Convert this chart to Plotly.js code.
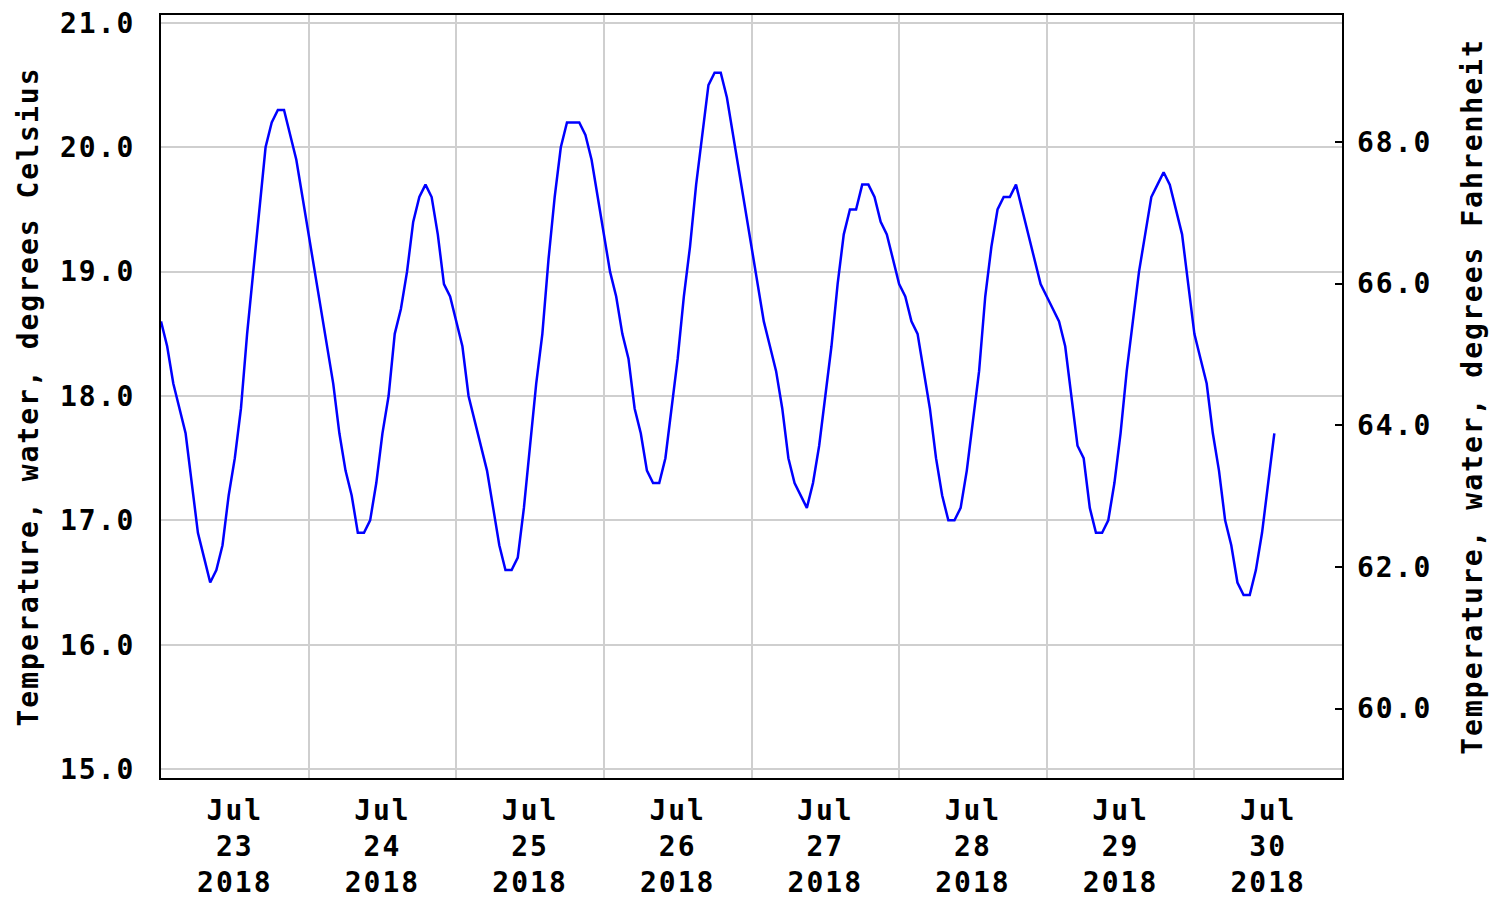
<!DOCTYPE html>
<html>
<head>
<meta charset="utf-8">
<script src="https://cdn.plot.ly/plotly-3.0.1.min.js"></script>
<style>
  html, body { margin: 0; padding: 0; background: #fff; }
  #chart { width: 1492px; height: 900px; }
  #chart text { letter-spacing: 2px; }
</style>
</head>
<body>
<div id="chart"></div>
<script>
// Hourly water temperature (deg C), starting 2018-07-23 00:00
const startDay = 23;
const tempC = [
  18.6, 18.4, 18.1, 17.9, 17.7, 17.3, 16.9, 16.7, 16.5, 16.6, 16.8, 17.2,
  17.5, 17.9, 18.5, 19.0, 19.5, 20.0, 20.2, 20.3, 20.3, 20.1, 19.9, 19.6,
  19.3, 19.0, 18.7, 18.4, 18.1, 17.7, 17.4, 17.2, 16.9, 16.9, 17.0, 17.3,
  17.7, 18.0, 18.5, 18.7, 19.0, 19.4, 19.6, 19.7, 19.6, 19.3, 18.9, 18.8,
  18.6, 18.4, 18.0, 17.8, 17.6, 17.4, 17.1, 16.8, 16.6, 16.6, 16.7, 17.1,
  17.6, 18.1, 18.5, 19.1, 19.6, 20.0, 20.2, 20.2, 20.2, 20.1, 19.9, 19.6,
  19.3, 19.0, 18.8, 18.5, 18.3, 17.9, 17.7, 17.4, 17.3, 17.3, 17.5, 17.9,
  18.3, 18.8, 19.2, 19.7, 20.1, 20.5, 20.6, 20.6, 20.4, 20.1, 19.8, 19.5,
  19.2, 18.9, 18.6, 18.4, 18.2, 17.9, 17.5, 17.3, 17.2, 17.1, 17.3, 17.6,
  18.0, 18.4, 18.9, 19.3, 19.5, 19.5, 19.7, 19.7, 19.6, 19.4, 19.3, 19.1,
  18.9, 18.8, 18.6, 18.5, 18.2, 17.9, 17.5, 17.2, 17.0, 17.0, 17.1, 17.4,
  17.8, 18.2, 18.8, 19.2, 19.5, 19.6, 19.6, 19.7, 19.5, 19.3, 19.1, 18.9,
  18.8, 18.7, 18.6, 18.4, 18.0, 17.6, 17.5, 17.1, 16.9, 16.9, 17.0, 17.3,
  17.7, 18.2, 18.6, 19.0, 19.3, 19.6, 19.7, 19.8, 19.7, 19.5, 19.3, 18.9,
  18.5, 18.3, 18.1, 17.7, 17.4, 17.0, 16.8, 16.5, 16.4, 16.4, 16.6, 16.9,
  17.3, 17.7
];
const tickMonth = 'Jul';
const tickYear = '2018';
const tickDays = ['23', '24', '25', '26', '27', '28', '29', '30'];
const fahrenheitTicks = [60, 62, 64, 66, 68];

function pad(n) { return (n < 10 ? '0' : '') + n; }
const times = tempC.map(function (v, i) {
  const d = startDay + Math.floor(i / 24);
  const h = i % 24;
  return '2018-07-' + pad(d) + ' ' + pad(h) + ':00';
});
const tickVals = tickDays.map(function (d) { return '2018-07-' + d + ' 12:00'; });
const tickText = tickDays.map(function (d) { return tickMonth + '<br>' + d + '<br>' + tickYear; });

const FONT = { family: 'DejaVu Sans Mono, monospace', size: 28, color: '#000', weight: 'bold' };

const data = [
  {
    type: 'scatter', mode: 'lines',
    x: times, y: tempC,
    line: { color: '#0000ff', width: 2.5 },
    showlegend: false, hoverinfo: 'x+y'
  },
  {
    type: 'scatter', mode: 'lines',
    x: [times[0]], y: [null],
    yaxis: 'y2', showlegend: false, hoverinfo: 'skip'
  }
];

const layout = {
  width: 1492, height: 900,
  margin: { l: 161, r: 150, t: 15, b: 122 },
  paper_bgcolor: '#fff', plot_bgcolor: '#fff',
  font: FONT,
  showlegend: false,
  xaxis: {
    type: 'date',
    range: ['2018-07-23 00:00', '2018-07-31 00:00'],
    tickmode: 'array', tickvals: tickVals, ticktext: tickText,
    ticks: '', showgrid: false, zeroline: false,
    showline: true, linecolor: '#000', linewidth: 2, mirror: true,
    tickfont: FONT, ticklabelstandoff: 6,
    minor: {
      tickmode: 'linear', tick0: '2018-07-23 00:00', dtick: 86400000,
      showgrid: true, gridcolor: '#cfcfcf', gridwidth: 2, ticks: ''
    }
  },
  yaxis: {
    range: [14.928, 21.064],
    tickmode: 'linear', tick0: 15, dtick: 1, tickformat: '.1f',
    ticks: '', showgrid: true, gridcolor: '#cfcfcf', gridwidth: 2, zeroline: false,
    showline: true, linecolor: '#000', linewidth: 2, mirror: true,
    tickfont: FONT, ticklabelstandoff: 18,
    title: { text: 'Temperature, water, degrees Celsius', font: FONT, standoff: 21 }
  },
  yaxis2: {
    overlaying: 'y', side: 'right', anchor: 'x',
    range: [59.02, 69.79],
    tickmode: 'array', tickvals: fahrenheitTicks,
    ticktext: fahrenheitTicks.map(function (f) { return f.toFixed(1); }),
    ticks: 'inside', ticklen: 7, tickwidth: 2, tickcolor: '#000',
    showgrid: false, zeroline: false, showline: false,
    tickfont: FONT, ticklabelstandoff: 14,
    title: { text: 'Temperature, water, degrees Fahrenheit', font: FONT, standoff: 38 }
  }
};

Plotly.newPlot('chart', data, layout, { displayModeBar: false, staticPlot: true });
</script>
</body>
</html>
